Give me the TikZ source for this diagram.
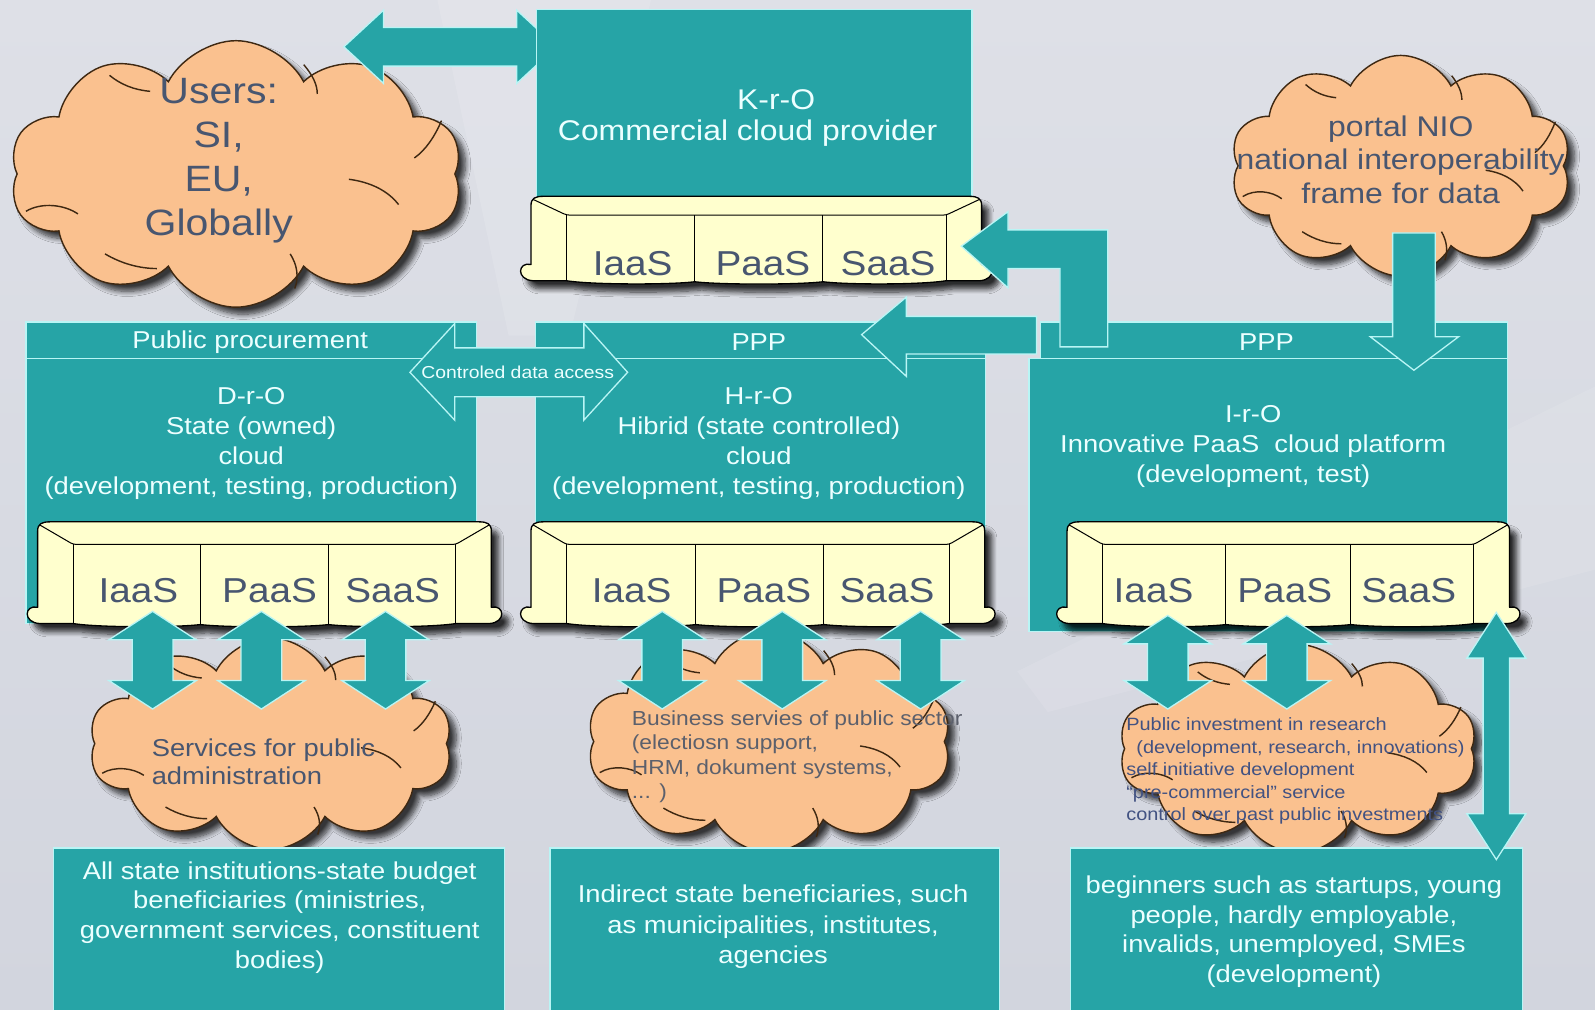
\documentclass[tikz,border=0pt]{standalone}
\usepackage{fontspec}
\setmainfont[FakeStretch=1.12]{Liberation Sans}
\usetikzlibrary{shapes.symbols,shadows.blur}

\definecolor{bgtop}{RGB}{222,224,231}
\definecolor{bgbottom}{RGB}{210,213,222}
\definecolor{tealbox}{RGB}{38,164,166}
\definecolor{edgecol}{RGB}{185,245,245}
\definecolor{peach}{RGB}{250,193,143}
\definecolor{cloudline}{RGB}{62,40,18}
\definecolor{cream}{RGB}{255,255,206}
\definecolor{slate}{RGB}{72,86,112}
\definecolor{boxtext}{RGB}{236,255,255}
\definecolor{greytext}{RGB}{92,96,108}
\definecolor{bluetext}{RGB}{66,82,130}

\tikzset{
  tealrect/.style={fill=tealbox, draw=edgecol, line width=1.2pt, inner sep=0pt, anchor=north west},
  fatarrow/.style={fill=tealbox, draw=edgecol, line width=1.3pt, line join=miter},
  puff/.style={cloud, cloud puffs=10, cloud puff arc=125, cloud ignores aspect,
    fill=peach, draw=cloudline, line width=1.4pt, inner sep=0pt,
    blur shadow={shadow xshift=7pt, shadow yshift=-7pt, shadow blur radius=5pt,
      shadow blur steps=8, shadow opacity=75}},
  wisp/.style={draw=cloudline, line width=1.4pt},
  sofabody/.style={fill=cream, draw=black, line width=1.3pt, line join=round,
    blur shadow={shadow xshift=7pt, shadow yshift=-8pt, shadow blur radius=5pt,
      shadow blur steps=8, shadow opacity=80}},
  sofaline/.style={draw=black, line width=1pt, rounded corners=3pt},
  sofatext/.style={text=slate, inner sep=0pt, font=\fontsize{34}{40}\selectfont},
  boxlabel/.style={text=boxtext, inner sep=0pt, align=center},
  cloudlabel/.style={text=slate, inner sep=0pt},
}

% inner curls of a cloud, in unit coordinates (-1..1)
\newcommand\wisps{%
  \draw[wisp] (-0.93,0.28) .. controls (-0.86,0.21) and (-0.76,0.23) .. (-0.70,0.30);
  \draw[wisp] (-0.56,-0.74) .. controls (-0.51,-0.67) and (-0.45,-0.63) .. (-0.38,-0.62);
  \draw[wisp] (0.30,-0.82) .. controls (0.34,-0.74) and (0.36,-0.67) .. (0.36,-0.60);
  \draw[wisp] (0.91,-0.40) .. controls (0.88,-0.28) and (0.84,-0.18) .. (0.79,-0.12);
  \draw[wisp] (0.50,0.04) .. controls (0.59,0.06) and (0.67,0.12) .. (0.72,0.23);
  \draw[wisp] (0.24,0.60) .. controls (0.27,0.68) and (0.28,0.77) .. (0.26,0.86);
  \draw[wisp] (-0.58,0.60) .. controls (-0.51,0.67) and (-0.43,0.71) .. (-0.35,0.71);
}

% vertical double block arrow: x, top tip, bottom tip, head half-width, shaft half-width, head length
\newcommand\vdarrow[6]{%
  \draw[fatarrow] (#1,#2) -- (#1+#4,#2+#6) -- (#1+#5,#2+#6) -- (#1+#5,#3-#6) -- (#1+#4,#3-#6)
    -- (#1,#3) -- (#1-#4,#3-#6) -- (#1-#5,#3-#6) -- (#1-#5,#2+#6) -- (#1-#4,#2+#6) -- cycle;}

% sofa: left, right, top, bottom, cushion divider 1, cushion divider 2
\newcommand\sofa[6]{%
  \pgfmathsetmacro\sfLo{#1+12}%
  \pgfmathsetmacro\sfLi{#1+47}%
  \pgfmathsetmacro\sfRo{#2-12}%
  \pgfmathsetmacro\sfRi{#2-47}%
  \pgfmathsetmacro\sfTi{#3+0.22*(#4-#3)}%
  \draw[sofabody] (\sfLo,#4-17) -- (\sfLo,#3+9) .. controls (\sfLo,#3+2) and (\sfLo+4,#3) .. (\sfLo+12,#3)
    -- (\sfRo-12,#3) .. controls (\sfRo-4,#3) and (\sfRo,#3+2) .. (\sfRo,#3+9)
    -- (\sfRo,#4-17) .. controls (#2+1,#4-20) and (#2+3,#4-2) .. (\sfRo-2,#4-1)
    -- (\sfRi,#4-1) .. controls (\sfRi-25,#4+3) and (#6+25,#4+3) .. (#6,#4)
    .. controls (#6-25,#4+3) and (#5+25,#4+3) .. (#5,#4)
    .. controls (#5-25,#4+3) and (\sfLi+25,#4+3) .. (\sfLi,#4-1)
    -- (\sfLo+2,#4-1) .. controls (#1-3,#4-2) and (#1-1,#4-20) .. (\sfLo,#4-17) -- cycle;
  \draw[sofaline] (\sfLo+2,#3+3) -- (\sfLi,\sfTi) -- (\sfRi,\sfTi) -- (\sfRo-2,#3+3);
  \draw[sofaline] (\sfLi,\sfTi) -- (\sfLi,#4-1) (#5,\sfTi) -- (#5,#4)
    (#6,\sfTi) -- (#6,#4) (\sfRi,\sfTi) -- (\sfRi,#4-1);
}

\begin{document}
\begin{tikzpicture}[x=1pt,y=-1pt]
\useasboundingbox (0,0) rectangle (1568,992);
\clip (0,0) rectangle (1568,992);
\shade[top color=bgtop, bottom color=bgbottom] (0,0) rectangle (1568,992);
\fill[white, opacity=0.12] (430,0) -- (640,0) -- (560,330) -- (500,330) -- cycle;
\fill[white, opacity=0.10] (1568,380) -- (1568,560) -- (1030,700) -- (1000,660) -- cycle;

% ---------- users cloud ----------
\node[puff, minimum width=445pt, minimum height=262pt] (users) at (232,171) {};
\begin{scope}[shift={(users.center)}, xscale=222, yscale=131]\wisps\end{scope}
\node[cloudlabel, align=center, font=\fontsize{36}{43.5}\selectfont] (userstext) at (215,158)
  {Users:\\SI,\\EU,\\Globally};

% users <-> commercial provider
\draw[fatarrow] (338,46) -- (377,10) -- (377,27) -- (508,27) -- (508,10) -- (547,46)
  -- (508,82) -- (508,65) -- (377,65) -- (377,82) -- cycle;

% ---------- commercial cloud provider ----------
\node[tealrect, minimum width=428pt, minimum height=192pt] (kro) at (527,9) {};
\node[boxlabel, font=\fontsize{28}{33}\selectfont] (krotitle) at (763,98) {K-r-O};
\node[boxlabel, font=\fontsize{28}{33}\selectfont] (krotext) at (735,131) {Commercial cloud provider};
\sofa{510}{977}{193}{277}{683}{809}
\node[sofatext] (kroI) at (622,259) {IaaS};
\node[sofatext] (kroP) at (750,259) {PaaS};
\node[sofatext] (kroS) at (873,259) {SaaS};

% ---------- NIO portal cloud ----------
\node[puff, minimum width=335pt, minimum height=217pt] (nio) at (1377,163) {};
\begin{scope}[shift={(nio.center)}, xscale=167, yscale=108]\wisps\end{scope}
\node[cloudlabel, align=center, font=\fontsize{28}{33}\selectfont] (niotext) at (1377,157)
  {portal NIO\\national interoperability\\frame for data};

% ---------- platforms ----------
\node[tealrect, minimum width=443pt, minimum height=36pt] (drohead) at (25,316) {};
\node[tealrect, minimum width=443pt, minimum height=260pt] (dro) at (25,352) {};
\node[tealrect, minimum width=442pt, minimum height=36pt] (hrohead) at (526,316) {};
\node[tealrect, minimum width=442pt, minimum height=258pt] (hro) at (526,352) {};
\node[tealrect, minimum width=459pt, minimum height=36pt] (irohead) at (1022,316) {};
\node[tealrect, minimum width=470pt, minimum height=268pt] (iro) at (1011,352) {};

\node[boxlabel, font=\fontsize{24}{29}\selectfont] (drohtext) at (246,336) {Public procurement};
\node[boxlabel, font=\fontsize{24}{29}\selectfont] (hrohtext) at (746,336) {PPP};
\node[boxlabel, font=\fontsize{24}{29}\selectfont] (irohtext) at (1245,336) {PPP};

\node[boxlabel, font=\fontsize{24}{29.3}\selectfont] (drotext) at (247,436)
  {D-r-O\\State (owned)\\cloud\\(development, testing, production)};
\node[boxlabel, font=\fontsize{24}{29.3}\selectfont] (hrotext) at (746,436)
  {H-r-O\\Hibrid (state controlled)\\cloud\\(development, testing, production)};
\node[boxlabel, font=\fontsize{24}{29.5}\selectfont] (irotext) at (1232,439)
  {I-r-O\\Innovative PaaS\ \ cloud platform\\(development, test)};

% controlled data access between state and hybrid cloud
\draw[fatarrow] (403,366) -- (447,318) -- (447,342) -- (574,342) -- (574,318) -- (617,366)
  -- (574,413) -- (574,390) -- (447,390) -- (447,413) -- cycle;
\node[boxlabel, font=\fontsize{17}{20}\selectfont] (access) at (509,366) {Controled data access};

% innovative platform feeds hybrid cloud and commercial provider
\draw[fatarrow] (847,329) -- (891,292) -- (891,311) -- (1019,311) -- (1019,348) -- (891,348)
  -- (891,370) -- cycle;
\draw[fatarrow] (945,242) -- (991,208) -- (991,226) -- (1089,226) -- (1089,341) -- (1042,341)
  -- (1042,264) -- (991,264) -- (991,283) -- cycle;

% NIO portal into the innovative platform
\draw[fatarrow] (1369,229) -- (1411,229) -- (1411,331) -- (1434,331) -- (1390,364)
  -- (1347,331) -- (1369,331) -- cycle;

% ---------- service sofas ----------
\sofa{25}{495}{513}{614}{197}{323}
\node[sofatext] (droI) at (136,581) {IaaS};
\node[sofatext] (droP) at (265,581) {PaaS};
\node[sofatext] (droS) at (386,581) {SaaS};
\sofa{510}{980}{513}{614}{684}{810}
\node[sofatext] (hroI) at (621,581) {IaaS};
\node[sofatext] (hroP) at (751,581) {PaaS};
\node[sofatext] (hroS) at (872,581) {SaaS};
\sofa{1037}{1496}{513}{614}{1205}{1328}
\node[sofatext] (iroI) at (1134,581) {IaaS};
\node[sofatext] (iroP) at (1263,581) {PaaS};
\node[sofatext] (iroS) at (1385,581) {SaaS};

% ---------- service clouds ----------
\node[puff, minimum width=357pt, minimum height=208pt] (svc) at (266,731) {};
\begin{scope}[shift={(svc.center)}, xscale=178, yscale=104]\wisps\end{scope}
\node[cloudlabel, anchor=west, align=left, font=\fontsize{24}{28}\selectfont] (svctext) at (149,749)
  {Services for public\\administration};

\node[puff, minimum width=358pt, minimum height=218pt] (biz) at (756,729) {};
\begin{scope}[shift={(biz.center)}, xscale=179, yscale=109]\wisps\end{scope}
\node[cloudlabel, text=greytext, anchor=west, align=left, font=\fontsize{20}{24}\selectfont] (biztext) at (621,744)
  {Business servies of public sector\\(electiosn support,\\HRM, dokument systems,\\... )};

\node[puff, minimum width=352pt, minimum height=205pt] (res) at (1276,736) {};
\begin{scope}[shift={(res.center)}, xscale=176, yscale=102]\wisps\end{scope}
\node[cloudlabel, text=bluetext, anchor=west, align=left, font=\fontsize{17.5}{22}\selectfont] (restext) at (1107,758)
  {Public investment in research\\\hspace*{10pt}(development, research, innovations)\\self initiative development\\“pre-commercial” service\\control over past public investments};

% ---------- beneficiaries ----------
\node[tealrect, minimum width=443pt, minimum height=170pt] (ben1) at (52,833) {};
\node[tealrect, minimum width=442pt, minimum height=170pt] (ben2) at (540,833) {};
\node[tealrect, minimum width=444pt, minimum height=170pt] (ben3) at (1052,833) {};
\node[boxlabel, font=\fontsize{24}{29.3}\selectfont] (ben1text) at (275,902)
  {All state institutions-state budget\\beneficiaries (ministries,\\government services, constituent\\bodies)};
\node[boxlabel, font=\fontsize{24}{29.5}\selectfont] (ben2text) at (760,911)
  {Indirect state beneficiaries, such\\as municipalities, institutes,\\agencies};
\node[boxlabel, font=\fontsize{24}{29}\selectfont] (ben3text) at (1272,916)
  {beginners such as startups, young\\people, hardly employable,\\invalids, unemployed, SMEs\\(development)};

% ---------- access arrows between platforms and services ----------
\vdarrow{150}{601}{697}{43}{20}{28}
\vdarrow{257}{601}{697}{43}{20}{28}
\vdarrow{379}{601}{697}{43}{20}{28}
\vdarrow{651}{601}{697}{43}{20}{28}
\vdarrow{769}{601}{697}{43}{20}{28}
\vdarrow{905}{601}{697}{43}{20}{28}
\vdarrow{1148}{605}{697}{43}{20}{28}
\vdarrow{1265}{605}{697}{43}{20}{28}
\vdarrow{1471}{602}{845}{29}{13}{45}
\end{tikzpicture}
\end{document}
